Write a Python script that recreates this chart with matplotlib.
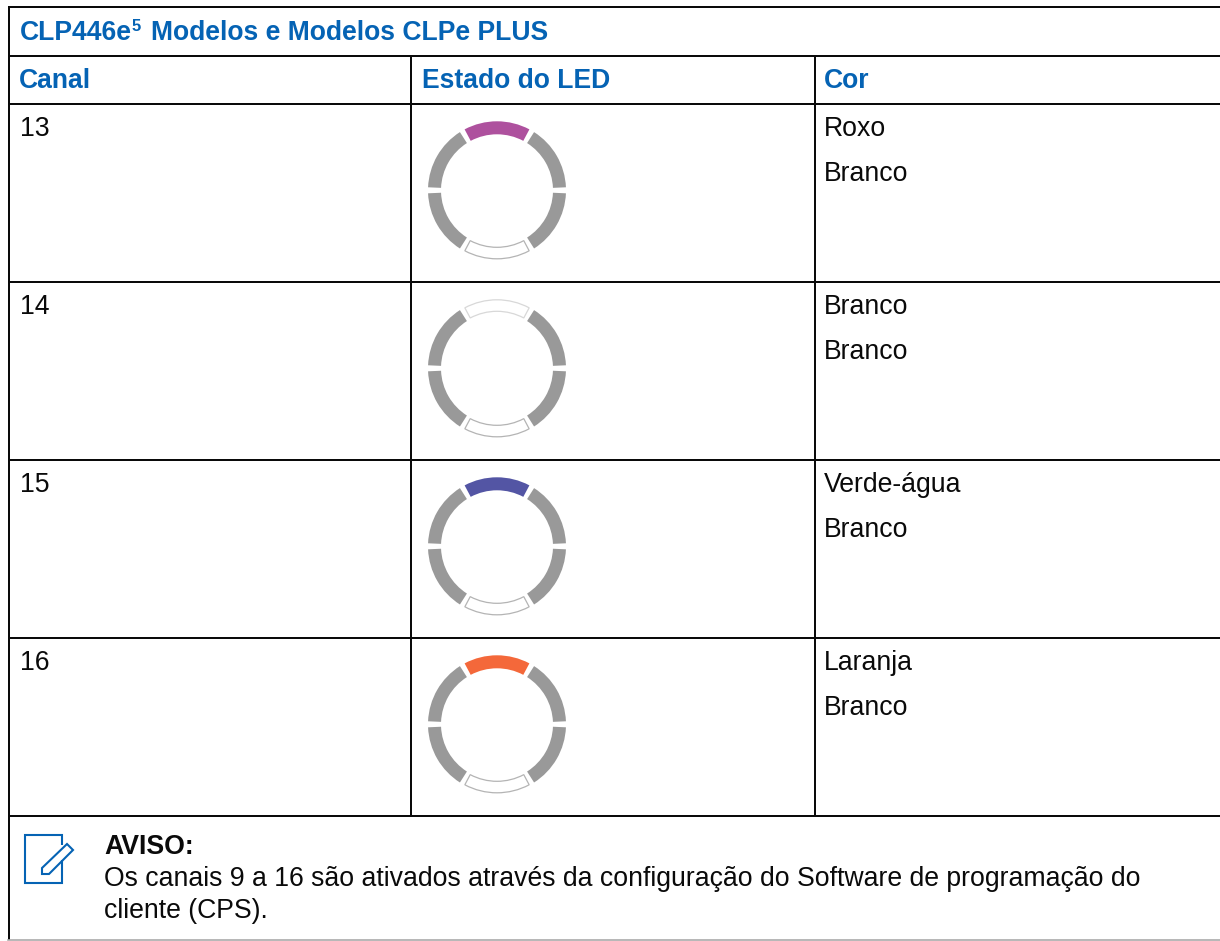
import matplotlib
matplotlib.use("Agg")
import matplotlib.pyplot as plt
from matplotlib.patches import Wedge, Polygon

plt.rcParams['font.family'] = ['Liberation Sans', 'DejaVu Sans']

W, H = 1220, 941
BLUE = '#0563b4'
GREY = '#999999'
HOLLOW = '#b4b4b4'
INK = '#0a0a0a'

title_main = 'CLP446e'
title_sup = '5'
title_rest = 'Modelos e Modelos CLPe PLUS'
headers = ['Canal', 'Estado do LED', 'Cor']
channels = ['13', '14', '15', '16']
colour_names = [['Roxo', 'Branco'], ['Branco', 'Branco'],
                ['Verde-água', 'Branco'], ['Laranja', 'Branco']]
top_led = ['#ae519e', None, '#5355a4', '#f4683a']
note_title = 'AVISO:'
note_lines = ['Os canais 9 a 16 são ativados através da configuração do Software de programação do',
              'cliente (CPS).']

row_lines = [104, 281.5, 460, 638, 816.4]
text_rows = [104, 282, 460, 638]
col_lines = [9.3, 411.2, 814.5]

fig = plt.figure(figsize=(W / 100, H / 100), dpi=100)
ax = fig.add_axes([0, 0, 1, 1])
ax.set_xlim(0, W)
ax.set_ylim(H, 0)
ax.axis('off')

LW = 2.0 * 0.72
def hline(y, x0=8, x1=W):
    ax.plot([x0, x1], [y, y], color=INK, lw=LW, solid_capstyle='butt')
def vline(x, y0, y1):
    ax.plot([x, x], [y0, y1], color=INK, lw=LW, solid_capstyle='butt')

hline(7)
hline(55.8)
for y in row_lines:
    hline(y)
vline(col_lines[0], 6, 940)
vline(col_lines[1], 56, row_lines[-1])
vline(col_lines[2], 56, row_lines[-1])
ax.plot([8, W], [940, 940], color='#aaaaaa', lw=1.2)

BOLD = dict(color=BLUE, fontweight='bold', fontsize=19.1, va='baseline')
ax.text(20, 40, title_main, **BOLD)
ax.text(132, 30.5, title_sup, **{**BOLD, 'fontsize': 12})
ax.text(151, 40, title_rest, **BOLD)
for x, h in zip([19, 422, 824], headers):
    ax.text(x, 88, h, **BOLD)

BODY = dict(color=INK, fontsize=19.2, va='baseline')
R_OUT, R_IN = 69, 56
grey_spans = [(2.5, 57.5), (122.5, 177.5), (182.5, 237.5), (302.5, 357.5)]

def draw_ring(cx, cy, colour):
    for a0, a1 in grey_spans:
        ax.add_patch(Wedge((cx, cy), R_OUT, a0, a1, width=R_OUT - R_IN,
                           facecolor=GREY, edgecolor='none'))
    # the y axis is inverted, so angles above 180 lie on the upper half
    if colour:
        ax.add_patch(Wedge((cx, cy), R_OUT, 242, 298, width=R_OUT - R_IN,
                           facecolor=colour, edgecolor='none'))
    else:
        ax.add_patch(Wedge((cx, cy), R_OUT - 0.5, 242, 298, width=R_OUT - R_IN - 1.5,
                           facecolor='white', edgecolor='#d8d8d8', lw=0.9))
    ax.add_patch(Wedge((cx, cy), R_OUT - 0.5, 62, 118, width=R_OUT - R_IN - 1.5,
                       facecolor='white', edgecolor=HOLLOW, lw=0.9))

for i, ch in enumerate(channels):
    top = text_rows[i]
    ax.text(19.5, top + 32, ch, **BODY)
    ax.text(824, top + 32, colour_names[i][0], **BODY)
    ax.text(824, top + 77, colour_names[i][1], **BODY)
    draw_ring(497, top + 86.3, top_led[i])

# note icon
ax.plot([62, 62, 25, 25, 62, 62], [845, 835, 835, 883, 883, 860],
        color=BLUE, lw=1.5, solid_joinstyle='miter', solid_capstyle='butt')
ax.add_patch(Polygon([(67, 844), (73, 850), (49, 874), (42, 874), (42, 868)],
                     closed=True, facecolor='white', edgecolor=BLUE, lw=1.5))

ax.text(104, 854, note_title, color=INK, fontweight='bold', fontsize=19.2, va='baseline')
ax.text(104, 886, note_lines[0], **BODY)
ax.text(104, 918, note_lines[1], **BODY)

fig.savefig('out.png', dpi=100)
